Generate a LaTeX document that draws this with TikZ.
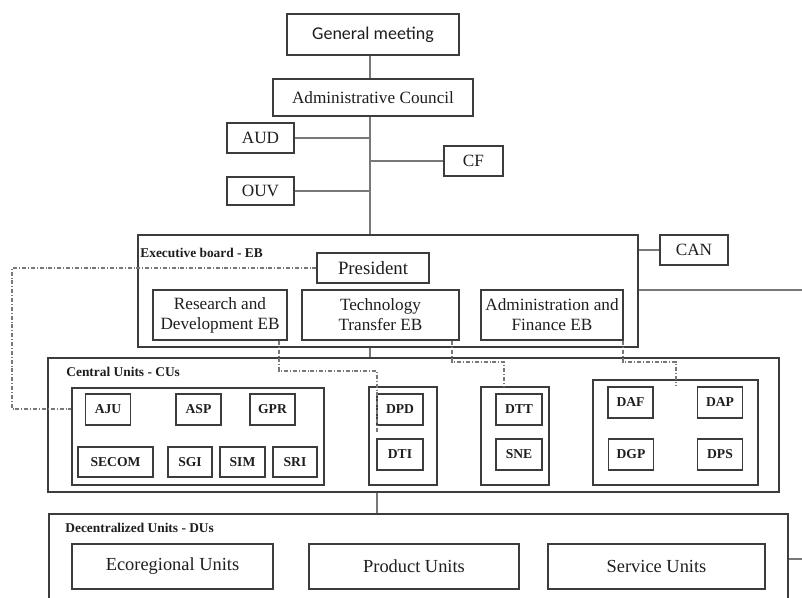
\documentclass[tikz,border=0pt]{standalone}
\usepackage{fontspec}
\setmainfont{Liberation Serif}
\newfontfamily\calibfont{Carlito}
\usetikzlibrary{positioning}

\definecolor{edgegray}{HTML}{3C3C3C}
\definecolor{wiregray}{HTML}{787878}
\definecolor{inkgray}{HTML}{1E1E1E}

\begin{document}
\begin{tikzpicture}[x=0.5pt,y=-0.5pt,
  box/.style={draw=edgegray,line width=0.7pt,inner sep=0pt,align=center,text=inkgray,font=\fontsize{8.6}{10}\selectfont},
  unit/.style={box,font=\bfseries\fontsize{6.8}{8}\selectfont,minimum width=22.5pt,minimum height=15.5pt},
  bigunit/.style={box,font=\fontsize{9.2}{11}\selectfont,minimum height=22.5pt},
  group/.style={draw=edgegray,line width=0.7pt,inner sep=0pt},
  tag/.style={anchor=west,inner sep=0pt,text=inkgray,font=\bfseries\fontsize{6.7}{8}\selectfont},
  wire/.style={draw=wiregray,line width=0.6pt},
  dotwire/.style={draw=wiregray,line width=0.6pt,dash pattern=on 2pt off 1pt on 0.4pt off 1pt}]
\useasboundingbox[fill=white] (0,0) rectangle (802,598);

% top of the chart
\path (373,34.5)  node[box,font=\calibfont\fontsize{9}{11}\selectfont,minimum width=86pt,minimum height=20.5pt] (GM) {General meeting};
\path (373,97.5)  node[box,minimum width=100pt,minimum height=18.5pt] (AC) {Administrative Council};
\path (260.5,138) node[box,minimum width=33.5pt,minimum height=15pt] (AUD) {AUD};
\path (473.5,161) node[box,minimum width=29.5pt,minimum height=15pt] (CF) {CF};
\path (260.5,191) node[box,minimum width=33.5pt,minimum height=14pt] (OUV) {OUV};

% executive board
\path (388,291)   node[group,minimum width=250pt,minimum height=56pt] (EB) {};
\path (140,253)   node[tag] (EBtag) {Executive board - EB};
\path (373,268)   node[box,font=\fontsize{9.4}{11}\selectfont,minimum width=56pt,minimum height=15pt] (President) {President};
\path (220,315)   node[box,minimum width=67pt,minimum height=25pt] (RD) {Research and\\Development EB};
\path (380.5,315) node[box,minimum width=78.5pt,minimum height=25pt] (TT) {Technology\\Transfer EB};
\path (552,315)   node[box,minimum width=71pt,minimum height=25pt] (AF) {Administration and\\Finance EB};
\path (694,250)   node[box,minimum width=34pt,minimum height=15pt] (CAN) {CAN};

% central units
\path (413.5,425) node[group,minimum width=365.5pt,minimum height=67pt] (CU) {};
\path (66,372)    node[tag] (CUtag) {Central Units - CUs};
\path (198,436.5) node[group,minimum width=126pt,minimum height=48.5pt] (G1) {};
\path (108,409.5) node[unit] (AJU) {AJU};
\path (198.5,409.5) node[unit] (ASP) {ASP};
\path (272.5,409.5) node[unit] (GPR) {GPR};
\path (115.5,462) node[unit,minimum width=37.5pt,minimum height=15pt] (SECOM) {SECOM};
\path (190,462)   node[unit,minimum width=22pt,minimum height=15pt] (SGI) {SGI};
\path (242.5,462) node[unit,minimum width=22.5pt,minimum height=15pt] (SIM) {SIM};
\path (295,462)   node[unit,minimum width=22pt,minimum height=15pt] (SRI) {SRI};
\path (403,436)   node[group,minimum width=34pt,minimum height=49pt] (G2) {};
\path (400,409.5) node[unit,minimum width=23pt] (DPD) {DPD};
\path (400,454.5) node[unit,minimum width=23pt] (DTI) {DTI};
\path (515,436)   node[group,minimum width=34pt,minimum height=49pt] (G3) {};
\path (519,409.5) node[unit,minimum width=23pt] (DTT) {DTT};
\path (519,454.5) node[unit,minimum width=23pt] (SNE) {SNE};
\path (675.5,432.5) node[group,minimum width=82.5pt,minimum height=52.5pt] (G4) {};
\path (630.5,402.5) node[unit] (DAF) {DAF};
\path (720,402.5) node[unit] (DAP) {DAP};
\path (631,454.5) node[unit] (DGP) {DGP};
\path (720,454.5) node[unit] (DPS) {DPS};

% decentralized units
\path (418.5,580) node[group,minimum width=369.5pt,minimum height=66pt] (DU) {};
\path (65,528)    node[tag] (DUtag) {Decentralized Units - DUs};
\path (172.5,566.5) node[bigunit,minimum width=100.5pt] (Eco) {Ecoregional Units};
\path (414,566.5) node[bigunit,minimum width=105pt] (Prod) {Product Units};
\path (656.5,566.5) node[bigunit,minimum width=108.5pt] (Serv) {Service Units};

% solid links
\coordinate (spine) at (370,0);
\coordinate (ebout) at (802,290);
\coordinate (dujoin) at (377,0);
\coordinate (duout) at (802,559);
\draw[wire] (GM.south -| spine) to (AC.north -| spine);
\draw[wire] (AC.south -| spine) to (EB.north -| spine);
\draw[wire] (AUD.east) to (AUD.east -| spine);
\draw[wire] (OUV.east) to (OUV.east -| spine);
\draw[wire] (CF.west) to (CF.west -| spine);
\draw[wire] (CAN.west) to (CAN.west -| EB.east);
\draw[wire] (ebout -| EB.east) to (ebout);
\draw[wire] (EB.south -| spine) to (CU.north -| spine);
\draw[wire] (CU.south -| dujoin) to (DU.north -| dujoin);
\draw[wire] (duout -| DU.east) to (duout);

% dash-dot links
\coordinate (presleft) at (12,409);
\coordinate (rdturn) at (279,371);
\coordinate (rdend) at (377,432);
\coordinate (ttturn) at (452,362);
\coordinate (ttdrop) at (504,0);
\coordinate (afturn) at (623,362);
\coordinate (afend) at (676,386);
\draw[dotwire] (President.west) -| (presleft) to (presleft -| G1.west);
\draw[dotwire] (RD.south -| rdturn) to (rdturn) -| (rdend);
\draw[dotwire] (TT.south -| ttturn) to (ttturn) -| (G3.north -| ttdrop);
\draw[dotwire] (AF.south -| afturn) to (afturn) -| (afend);
\end{tikzpicture}
\end{document}
